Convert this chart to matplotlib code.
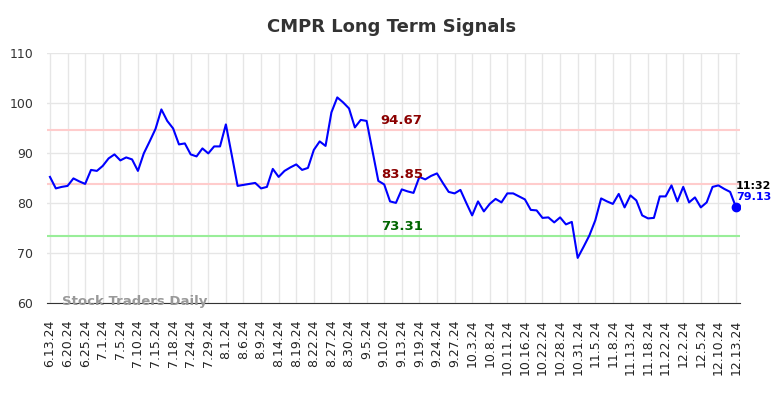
import matplotlib
matplotlib.use("Agg")
import matplotlib.pyplot as plt
import numpy as np

# valeurs (un point par séance)
prices = [
    85.2, 82.9, 83.2, 83.4, 84.9, 84.3, 83.8, 86.6, 86.4, 87.4,
    88.9, 89.7, 88.5, 89.1, 88.7, 86.4, 89.9, 92.3, 94.8, 98.7,
    96.4, 94.9, 91.7, 91.9, 89.7, 89.3, 90.9, 89.9, 91.3, 91.3,
    95.7, 89.6, 83.4, 83.6, 83.8, 84.0, 82.9, 83.2, 86.8, 85.2,
    86.4, 87.1, 87.7, 86.6, 87.0, 90.6, 92.3, 91.4, 98.1, 101.1,
    100.1, 98.9, 95.1, 96.6, 96.4, 90.4, 84.4, 83.7, 80.3, 80.0,
    82.7, 82.3, 82.0, 85.2, 84.7, 85.4, 85.9, 84.0, 82.2, 81.9,
    82.6, 80.0, 77.5, 80.3, 78.3, 79.8, 80.8, 80.1, 81.9, 81.9,
    81.3, 80.7, 78.6, 78.5, 77.0, 77.1, 76.1, 77.1, 75.7, 76.2,
    69.0, 71.2, 73.5, 76.5, 80.9, 80.3, 79.8, 81.8, 79.1, 81.5,
    80.5, 77.5, 76.9, 77.0, 81.3, 81.3, 83.5, 80.3, 83.2, 80.1,
    81.1, 79.1, 80.1, 83.2, 83.5, 82.8, 82.2, 79.13,
]
tick_labels = [
    "6.13.24", "6.20.24", "6.25.24", "7.1.24", "7.5.24", "7.10.24", "7.15.24",
    "7.18.24", "7.24.24", "7.29.24", "8.1.24", "8.6.24", "8.9.24", "8.14.24",
    "8.19.24", "8.22.24", "8.27.24", "8.30.24", "9.5.24", "9.10.24", "9.13.24",
    "9.19.24", "9.24.24", "9.27.24", "10.3.24", "10.8.24", "10.11.24",
    "10.16.24", "10.22.24", "10.28.24", "10.31.24", "11.5.24", "11.8.24",
    "11.13.24", "11.18.24", "11.22.24", "12.2.24", "12.5.24", "12.10.24",
    "12.13.24",
]
upper_level = 94.67
mid_level = 83.85
lower_level = 73.31
last_time = "11:32"

x = np.arange(len(prices))

fig = plt.figure(figsize=(7.84, 3.98), dpi=100)
ax = fig.add_axes([0.060, 0.239, 0.884, 0.628])

ax.grid(True, color="#e6e6e6", linewidth=1)
ax.set_axisbelow(True)

ax.axhline(upper_level, color="#ffcccc", linewidth=1.5)
ax.axhline(mid_level, color="#ffcccc", linewidth=1.5)
ax.axhline(lower_level, color="#99ee99", linewidth=1.5)

ax.plot(x, prices, color="#0000ff", linewidth=1.5)
ax.plot(x[-1], prices[-1], "o", color="#0000ff", markersize=6)

lx = 60
ax.text(lx, upper_level + 0.6, f"{upper_level:.2f}", color="#8b0000",
        fontsize=9.5, fontweight="bold", ha="center", va="bottom")
ax.text(lx, mid_level + 0.6, f"{mid_level:.2f}", color="#8b0000",
        fontsize=9.5, fontweight="bold", ha="center", va="bottom")
ax.text(lx, lower_level + 0.6, f"{lower_level:.2f}", color="#006400",
        fontsize=9.5, fontweight="bold", ha="center", va="bottom")

ax.text(x[-1], prices[-1] + 3.2, last_time, color="black", fontsize=8,
        fontweight="bold", ha="left", va="bottom")
ax.text(x[-1], prices[-1] + 3.0, f"{prices[-1]:.2f}", color="#0000ff",
        fontsize=8, fontweight="bold", ha="left", va="top")

ax.text(2, 60.2, "Stock Traders Daily", color="#999999", fontsize=9.5,
        fontweight="bold", ha="left", va="center")

ax.set_xlim(-0.5, 117.7)
ax.set_ylim(60, 110)
ax.set_yticks(range(60, 111, 10))
ax.set_xticks(x[::3])
ax.set_xticklabels(tick_labels, rotation=90, fontsize=9)
ax.tick_params(axis="y", labelsize=9, colors="#333333", length=0, pad=10)
ax.tick_params(axis="x", colors="#222222", length=0, pad=12)

for side in ["top", "right", "left"]:
    ax.spines[side].set_visible(False)
ax.spines["bottom"].set_color("#333333")

fig.suptitle("CMPR Long Term Signals", fontsize=13, fontweight="bold",
             color="#333333", y=0.955)

fig.savefig("out.png", dpi=100)
